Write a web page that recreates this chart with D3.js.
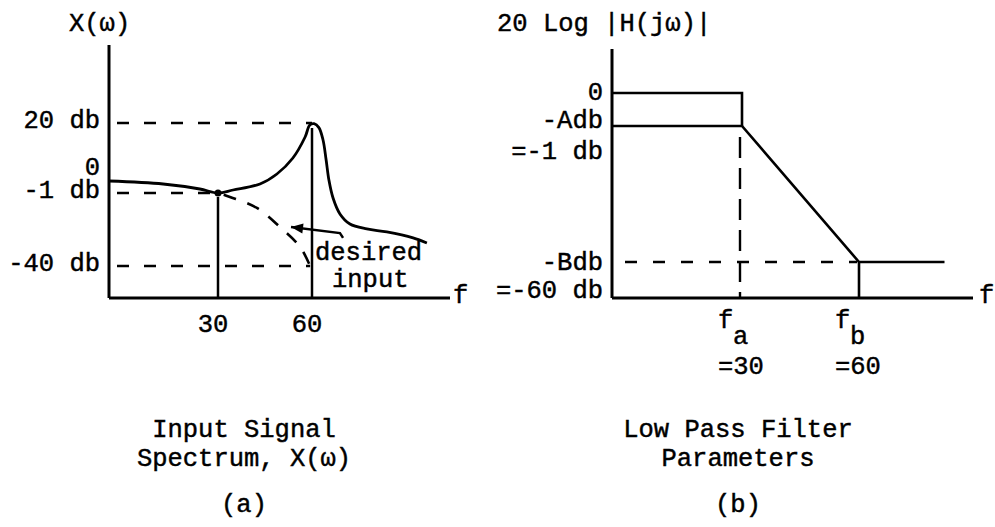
<!DOCTYPE html>
<html><head><meta charset="utf-8">
<script src="https://cdn.jsdelivr.net/npm/d3@7"></script>
<style>
html,body{margin:0;padding:0;background:#fff;}
svg text{font-family:"Liberation Mono","Courier New",monospace;font-size:25.5px;fill:#000;stroke:#000;stroke-width:0.45px;}
</style></head><body>
<svg id="chart" width="995" height="527"></svg>
<script>
// ---------- Panel (a): input signal spectrum ----------
const spectrumF  = [0, 14.9, 25, 30, 34.8, 43.4, 48.8, 53.9, 57.8, 59.3, 60.6, 62.0, 63.2, 64.1, 64.9, 66.1, 68.1, 71.0, 75.9, 81.7, 89.3, 93.3];
const spectrumDb = [2.6, 1.7, 0.2, -1, -0.1, 1.7, 4.7, 9.5, 15.8, 19.4, 19.8, 18.6, 14.9, 8.9, 2.9, -3.7, -12.2, -17.6, -20.2, -21.8, -25.0, -27.7];
const desiredF   = [30, 33.8, 42.4, 49.8, 56.2, 59.4];
const desiredDb  = [-1, -3.1, -9.0, -19.2, -29.8, -40];
const leftTickF      = [30, 60];
const leftTickLabels = ["30", "60"];
const leftLevelDb     = [20, -1, -40];
const leftLevelLabels = ["20 db", "-1 db", "-40 db"];
const leftDashEndF    = [60, 30, 59.4];
const arrowF  = [53.3, 68.1, 69];
const arrowDb = [-19.2, -22.4, -25];
const leftAxisTitle = "X(\u03c9)";
const leftCaption = ["Input Signal", "Spectrum, X(\u03c9)", "(a)"];

// ---------- Panel (b): low pass filter parameters ----------
const filterF   = [0, 30, 60, 90];        // start, fa, fb, end of stopband line
const passTopDb = 0;
const passDb    = -1;                       // -A db
const stopDb    = -60;                      // -B db
const rightLabels = ["0", "-Adb", "=-1 db", "-Bdb", "=-60 db"];
const rightTickNames  = ["a", "b"];
const rightTickValues = ["=30", "=60"];
const rightAxisTitle = "20 Log |H(j\u03c9)|";
const rightCaption = ["Low Pass Filter", "Parameters", "(b)"];

const svg = d3.select("#chart");
const baseY = 298;

// scales (schematic, piecewise linear)
const xL = d3.scaleLinear().domain([0, 30, 60, 100]).range([109, 218, 312, 450]);
const yL = d3.scaleLinear().domain([-40, -1, 20]).range([266, 193, 123]);
const xR = d3.scaleLinear().domain([0, 30, 60, 100]).range([612, 742, 859, 973]);
const yR = d3.scaleLinear().domain([-60, -1, 0]).range([262, 126, 93]);

const line = (sx, sy) => d3.line().x(d => sx(d[0])).y(d => sy(d[1]));

// ===== Panel (a) =====
const gA = svg.append("g");
gA.append("line").attr("x1", xL(0)).attr("x2", xL(0)).attr("y1", 45).attr("y2", baseY)
  .attr("stroke", "#000").attr("stroke-width", 3);
gA.append("line").attr("x1", xL(0)).attr("x2", xL(100)).attr("y1", baseY).attr("y2", baseY)
  .attr("stroke", "#000").attr("stroke-width", 3);
gA.append("text").attr("x", xL(100) + 3).attr("y", 303).text("f");
gA.append("text").attr("x", 69).attr("y", 31).text(leftAxisTitle);

gA.selectAll("text.lvl").data(leftLevelDb).join("text").attr("class", "lvl")
  .attr("x", xL(0) - 9).attr("y", d => yL(d) + 5).attr("text-anchor", "end")
  .text((d, i) => leftLevelLabels[i]);
gA.append("text").attr("x", xL(0) - 9).attr("y", yL(-1) - 18).attr("text-anchor", "end").text("0");

gA.selectAll("line.lvl").data(leftLevelDb).join("line").attr("class", "lvl")
  .attr("x1", xL(0)).attr("x2", (d, i) => xL(leftDashEndF[i]))
  .attr("y1", d => yL(d)).attr("y2", d => yL(d))
  .attr("stroke", "#000").attr("stroke-width", 2.5)
  .attr("stroke-dasharray", "12 15").attr("stroke-dashoffset", 19);

gA.append("line").attr("x1", xL(30)).attr("x2", xL(30)).attr("y1", yL(-1) + 4).attr("y2", baseY)
  .attr("stroke", "#000").attr("stroke-width", 2.5);
gA.append("line").attr("x1", xL(60)).attr("x2", xL(60)).attr("y1", yL(20) + 5).attr("y2", baseY)
  .attr("stroke", "#000").attr("stroke-width", 2.5);

gA.selectAll("text.tk").data(leftTickF).join("text").attr("class", "tk")
  .attr("x", d => xL(d) - 5).attr("y", 332).attr("text-anchor", "middle")
  .text((d, i) => leftTickLabels[i]);

const specPts = spectrumF.map((f, i) => [f, spectrumDb[i]]);
gA.append("path").attr("d", line(xL, yL).curve(d3.curveCatmullRom.alpha(0.5))(specPts))
  .attr("fill", "none").attr("stroke", "#000").attr("stroke-width", 2.8);
const desPts = desiredF.map((f, i) => [f, desiredDb[i]]);
gA.append("path").attr("d", line(xL, yL).curve(d3.curveCatmullRom.alpha(0.5))(desPts))
  .attr("fill", "none").attr("stroke", "#000").attr("stroke-width", 2.6)
  .attr("stroke-dasharray", "13 12").attr("stroke-dashoffset", -6);
gA.append("circle").attr("cx", xL(30)).attr("cy", yL(-1)).attr("r", 3.5).attr("fill", "#000");

const arrPts = arrowF.map((f, i) => [f, arrowDb[i]]).reverse();
gA.append("path").attr("d", line(xL, yL)(arrPts))
  .attr("fill", "none").attr("stroke", "#000").attr("stroke-width", 2.5);
{
  const hx = xL(arrowF[0]), hy = yL(arrowDb[0]);
  const tx = xL(arrowF[1]), ty = yL(arrowDb[1]);
  const ang = Math.atan2(hy - ty, hx - tx);
  const L = 12, W = 5;
  const p = [[hx, hy],
    [hx - L * Math.cos(ang) + W * Math.sin(ang), hy - L * Math.sin(ang) - W * Math.cos(ang)],
    [hx - L * Math.cos(ang) - W * Math.sin(ang), hy - L * Math.sin(ang) + W * Math.cos(ang)]];
  gA.append("path").attr("d", "M" + p.join("L") + "Z").attr("fill", "#000");
}
gA.append("text").attr("x", 315).attr("y", 260).text("desired");
gA.append("text").attr("x", 332).attr("y", 287).text("input");

gA.selectAll("text.cap").data(leftCaption).join("text").attr("class", "cap")
  .attr("x", 244).attr("y", (d, i) => [437, 466, 512][i]).attr("text-anchor", "middle").text(d => d);

// ===== Panel (b) =====
const gB = svg.append("g");
gB.append("line").attr("x1", xR(0)).attr("x2", xR(0)).attr("y1", 49).attr("y2", baseY)
  .attr("stroke", "#000").attr("stroke-width", 3);
gB.append("line").attr("x1", xR(0)).attr("x2", xR(100)).attr("y1", baseY).attr("y2", baseY)
  .attr("stroke", "#000").attr("stroke-width", 3);
gB.append("text").attr("x", xR(100) + 6).attr("y", 303).text("f");
gB.append("text").attr("x", 497).attr("y", 31).text(rightAxisTitle);

const rl = [yR(passTopDb) + 7, yR(passDb) + 2, yR(passDb) + 33, yR(stopDb) + 8, baseY];
gB.selectAll("text.lvl").data(rightLabels).join("text").attr("class", "lvl")
  .attr("x", xR(0) - 9).attr("y", (d, i) => rl[i]).attr("text-anchor", "end").text(d => d);

const fa = filterF[1], fb = filterF[2];
gB.append("path").attr("d", line(xR, yR)([[filterF[0], passTopDb], [fa, passTopDb], [fa, passDb]]))
  .attr("fill", "none").attr("stroke", "#000").attr("stroke-width", 2.6);
gB.append("path").attr("d", line(xR, yR)([[filterF[0], passDb], [fa, passDb], [fb, stopDb], [filterF[3], stopDb]]))
  .attr("fill", "none").attr("stroke", "#000").attr("stroke-width", 2.6);
gB.append("line").attr("x1", xR(fb)).attr("x2", xR(fb)).attr("y1", yR(stopDb)).attr("y2", baseY)
  .attr("stroke", "#000").attr("stroke-width", 2.6);
gB.append("line").attr("x1", xR(fa) - 2).attr("x2", xR(fa) - 2).attr("y1", yR(passDb) + 11).attr("y2", baseY)
  .attr("stroke", "#000").attr("stroke-width", 2.4).attr("stroke-dasharray", "21 10");
gB.append("line").attr("x1", xR(0) + 13).attr("x2", xR(fb) - 2).attr("y1", yR(stopDb)).attr("y2", yR(stopDb))
  .attr("stroke", "#000").attr("stroke-width", 2.4).attr("stroke-dasharray", "12 16");

[fa, fb].forEach((f, i) => {
  gB.append("text").attr("x", xR(f) - 24).attr("y", 328).text("f");
  gB.append("text").attr("x", xR(f) - 9).attr("y", 344).text(rightTickNames[i]);
  gB.append("text").attr("x", xR(f) - 24).attr("y", 374).text(rightTickValues[i]);
});

gB.selectAll("text.cap").data(rightCaption).join("text").attr("class", "cap")
  .attr("x", 738).attr("y", (d, i) => [437, 466, 512][i]).attr("text-anchor", "middle").text(d => d);
</script>
</body></html>
